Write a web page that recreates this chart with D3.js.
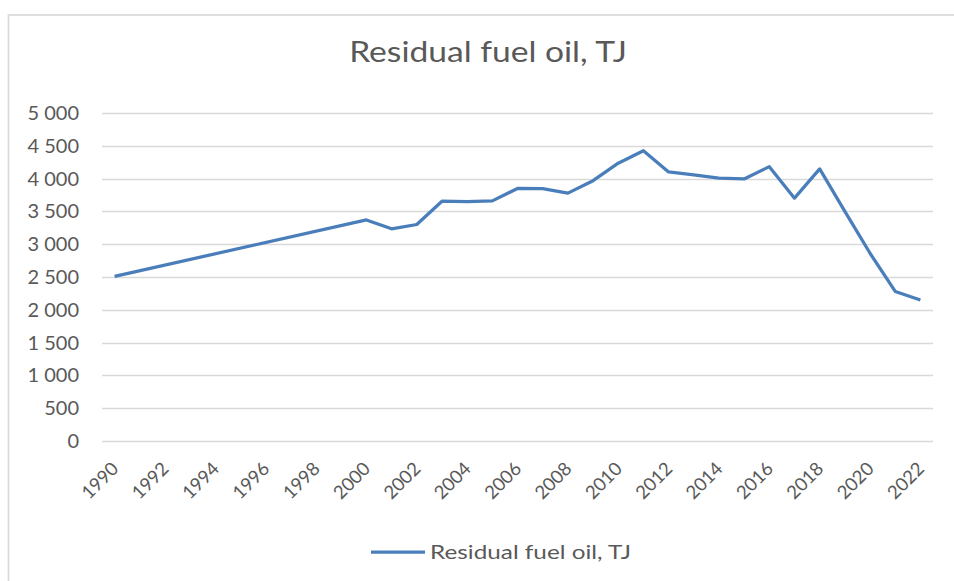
<!DOCTYPE html>
<html>
<head>
<meta charset="utf-8">
<script src="https://cdn.jsdelivr.net/npm/d3@7"></script>
<style>
  body { margin: 0; background: #fff; }
  text { font-family: Lato, "Open Sans", sans-serif; fill: #595959; }
</style>
</head>
<body>
<div id="chart-area"></div>
<script>
const WIDTH_ALL = 954
const HEIGHT_ALL = 581
const MARGIN = { LEFT: 102, RIGHT: 21, TOP: 113, BOTTOM: 140 }
const WIDTH = WIDTH_ALL - MARGIN.LEFT - MARGIN.RIGHT
const HEIGHT = HEIGHT_ALL - MARGIN.TOP - MARGIN.BOTTOM

// data (1991-1999 have no values, line is drawn across the gap)
const years = d3.range(1990, 2023)
const values = [2510, null, null, null, null, null, null, null, null, null,
  3370, 3235, 3300, 3655, 3650, 3660, 3850, 3848, 3778, 3968,
  4235, 4425, 4102, 4058, 4008, 3995, 4182, 3702, 4148, 3500,
  2862, 2280, 2150]
const yTicks = [0, 500, 1000, 1500, 2000, 2500, 3000, 3500, 4000, 4500, 5000]
const xTickYears = years.filter(d => d % 2 === 0)
const seriesName = "Residual fuel oil, TJ"

const svg = d3.select("#chart-area").append("svg")
  .attr("width", WIDTH_ALL)
  .attr("height", HEIGHT_ALL)

// chart frame
svg.append("rect")
  .attr("x", 8.5).attr("y", 15)
  .attr("width", 960).attr("height", 600)
  .attr("fill", "none")
  .attr("stroke", "#d9d9d9")
  .attr("stroke-width", 1.7)

const g = svg.append("g")
  .attr("transform", `translate(${MARGIN.LEFT}, ${MARGIN.TOP})`)

// Scales
const x = d3.scaleBand()
  .domain(years)
  .range([0, WIDTH])
const y = d3.scaleLinear()
  .domain([0, 5000])
  .range([HEIGHT, 0])

// gridlines
g.append("g")
  .selectAll("line")
  .data(yTicks)
  .enter().append("line")
    .attr("x1", 0).attr("x2", WIDTH)
    .attr("y1", d => Math.round(y(d)) + 0.5)
    .attr("y2", d => Math.round(y(d)) + 0.5)
    .attr("stroke", "#d9d9d9")
    .attr("stroke-width", 1.3)

// Y Axis
const yAxisCall = d3.axisLeft(y)
  .tickValues(yTicks)
  .tickSize(0)
  .tickPadding(23)
  .tickFormat(d => d3.format(",")(d).replace(/,/g, " "))
const yAxis = g.append("g")
  .attr("class", "y axis")
  .call(yAxisCall)
yAxis.select(".domain").remove()
yAxis.selectAll("text")
  .attr("font-size", "20px")
  .style("fill", "#595959")

// X Axis
const xAxisCall = d3.axisBottom(x)
  .tickValues(xTickYears)
  .tickSize(0)
  .tickFormat(d3.format(""))
const xAxis = g.append("g")
  .attr("class", "x axis")
  .attr("transform", `translate(0, ${HEIGHT})`)
  .call(xAxisCall)
xAxis.select(".domain").remove()
xAxis.selectAll("text")
  .attr("font-size", "18.5px")
  .style("fill", "#595959")
  .attr("text-anchor", "end")
  .attr("dy", 0)
  .attr("y", 0)
  .attr("transform", "translate(5, 29) rotate(-45)")

// Line
const line = d3.line()
  .x(d => x(d.year) + x.bandwidth() / 2)
  .y(d => y(d.value))
const lineData = years.map((yr, i) => ({ year: yr, value: values[i] }))
  .filter(d => d.value !== null)
g.append("path")
  .datum(lineData)
  .attr("fill", "none")
  .attr("stroke", "#4a7ebb")
  .attr("stroke-width", 3.25)
  .attr("stroke-linejoin", "round")
  .attr("d", line)

// Title
svg.append("text")
  .attr("transform", "translate(488, 62) scale(1.2, 1)")
  .attr("text-anchor", "middle")
  .attr("font-size", "28px")
  .text(seriesName)

// Legend
const legend = svg.append("g")
  .attr("transform", "translate(371, 552)")
legend.append("line")
  .attr("x1", 0).attr("x2", 54)
  .attr("y1", 0).attr("y2", 0)
  .attr("stroke", "#4a7ebb")
  .attr("stroke-width", 3.25)
legend.append("text")
  .attr("transform", "translate(59, 6.5) scale(1.28, 1)")
  .attr("font-size", "19px")
  .text(seriesName)
</script>
</body>
</html>
